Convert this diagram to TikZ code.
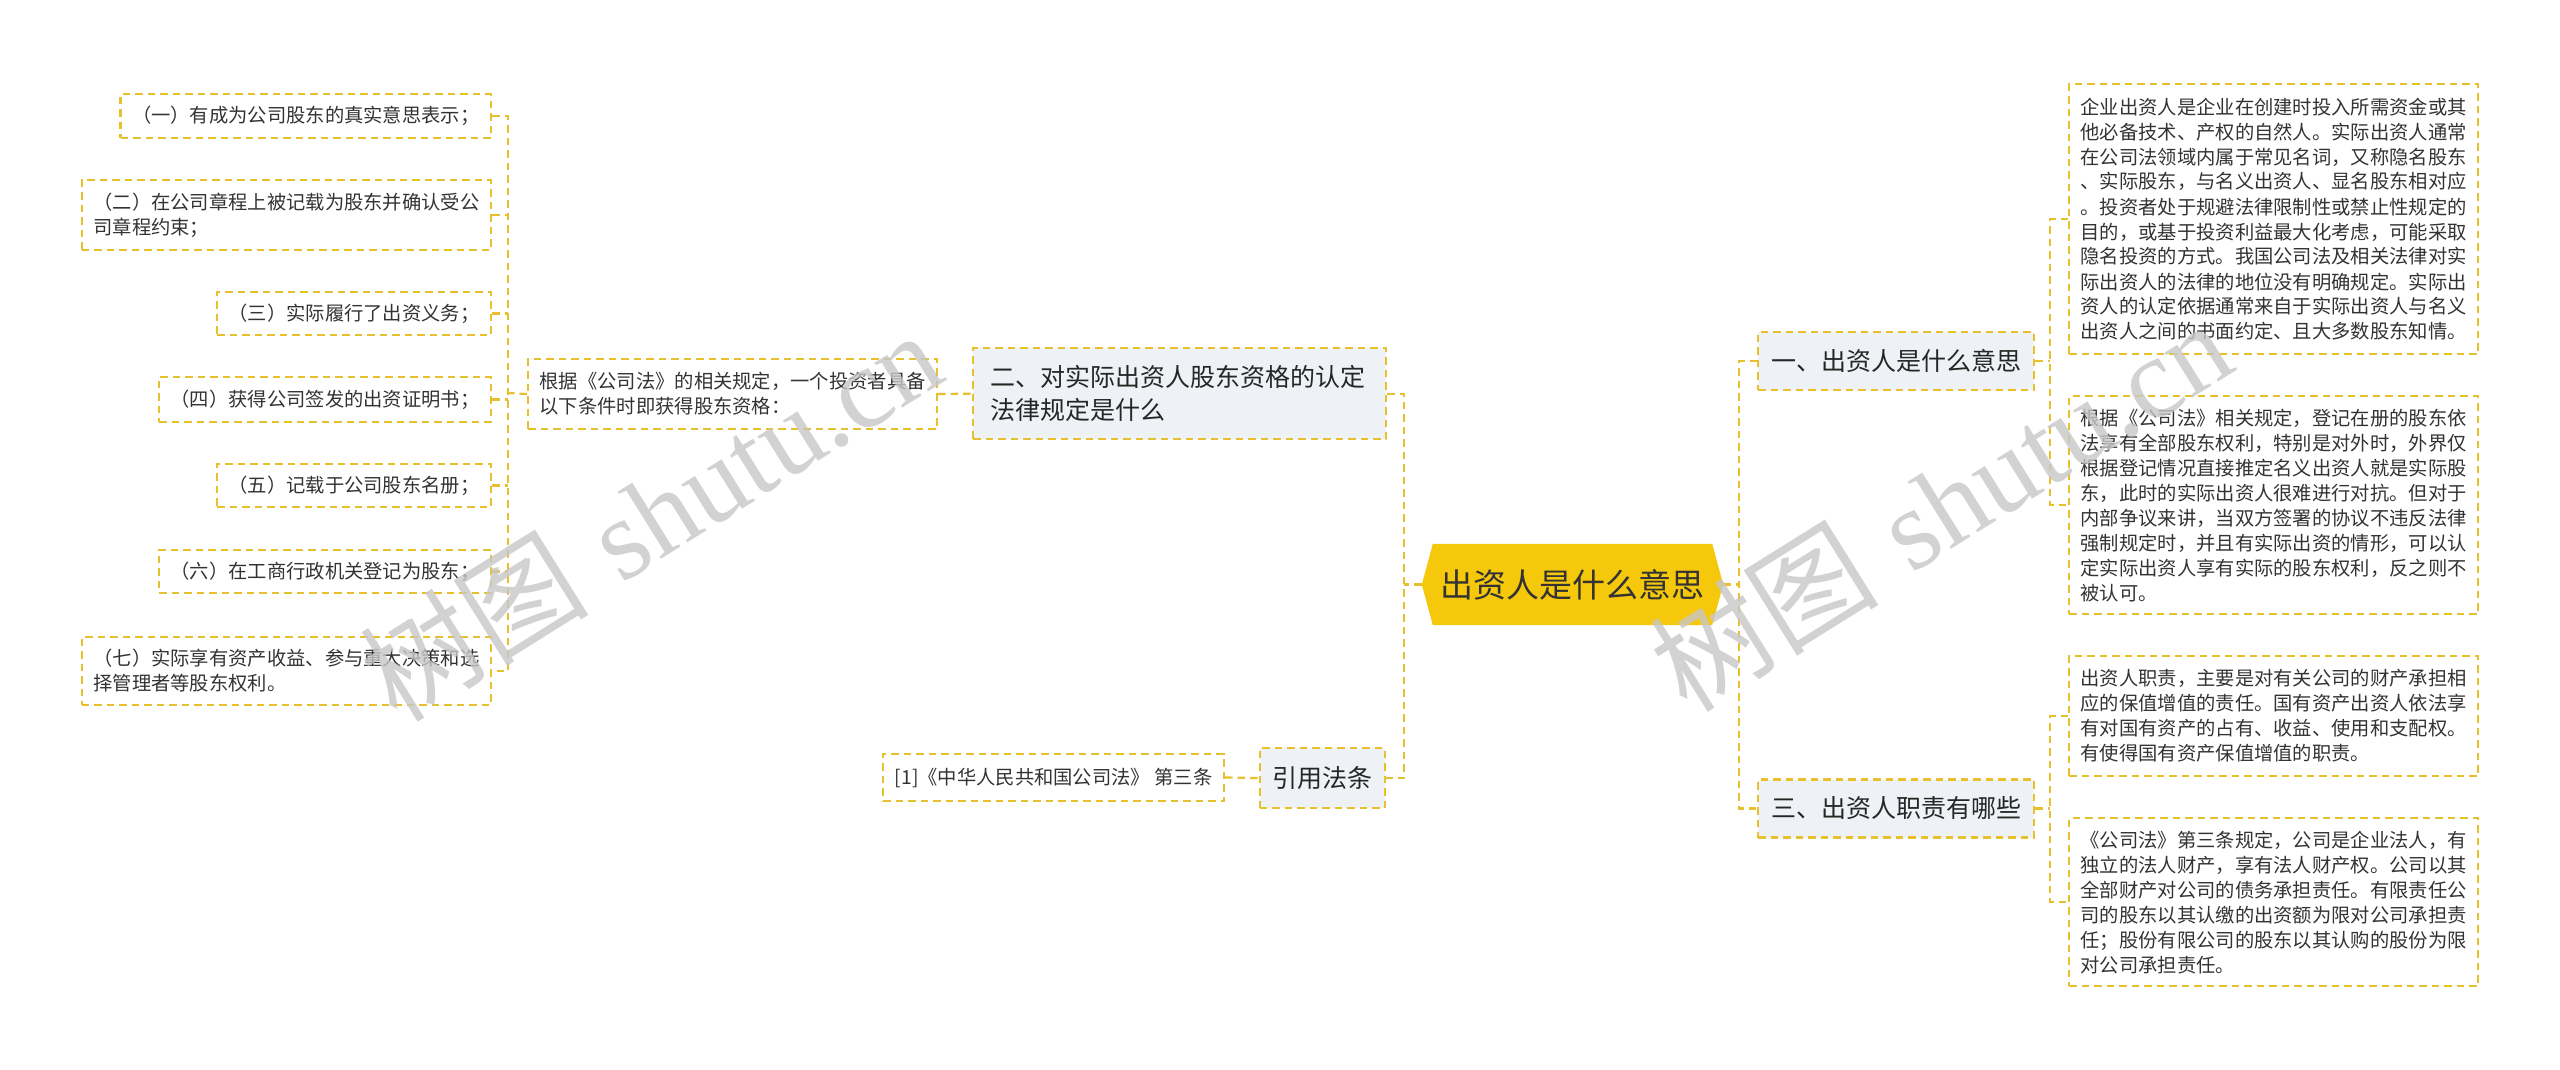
\documentclass[tikz,border=0pt]{standalone}
\usepackage{fontspec}
\newfontfamily\cjk{Noto Sans CJK SC}
\newfontfamily\wmlat{Liberation Serif}
\usetikzlibrary{backgrounds}
\definecolor{linecol}{HTML}{E8BF2C}
\definecolor{branchfill}{HTML}{EEF1F5}
\definecolor{rootfill}{HTML}{F5C80C}
\definecolor{txt}{HTML}{333333}
\tikzset{
  conn/.style={draw=linecol, line width=2.2pt, dash pattern=on 7.5pt off 5pt},
  leafbox/.style={conn, fill=white, text=txt, font=\cjk\fontsize{19.3}{25}\selectfont, align=left, inner xsep=11.5pt, inner ysep=0pt},
  branchbox/.style={conn, fill=branchfill, text=black!85, font=\cjk\fontsize{25}{33}\selectfont, align=left, inner xsep=13pt, inner ysep=0pt, minimum height=58pt},
  wmark/.style={rotate=32, text=black!22, opacity=0.8, font=\fontsize{115}{120}\selectfont}
}
\begin{document}
\begin{tikzpicture}[x=1pt,y=-1pt]
\useasboundingbox (0,0) rectangle (2560,1069);
% root
\node[font=\cjk\fontsize{33}{40}\selectfont, text=txt, minimum width=301pt, minimum height=81pt, inner sep=0pt] (root) at (1572.5,584.5) {出资人是什么意思};
\begin{scope}[on background layer]
  \fill[white] (0,0) rectangle (2560,1069);
  \fill[rootfill] (root.west) -- ([xshift=11pt]root.north west) -- ([xshift=-11pt]root.north east) -- (root.east) -- ([xshift=-11pt]root.south east) -- ([xshift=11pt]root.south west) -- cycle;
\end{scope}
% left branch
\node[branchbox, anchor=north west, text width=378pt, inner xsep=17.5pt, minimum height=91pt] (n2) at (972,347) {二、对实际出资人股东资格的认定\\法律规定是什么};
\node[leafbox, anchor=north west, minimum height=70pt] (gen) at (527,358) {根据《公司法》的相关规定，一个投资者具备\\以下条件时即获得股东资格：};
\node[leafbox, anchor=east, minimum height=44pt] (a1) at (492,116) {（一）有成为公司股东的真实意思表示；};
\node[leafbox, anchor=east, minimum height=70pt] (a2) at (492,215) {（二）在公司章程上被记载为股东并确认受公\\司章程约束；};
\node[leafbox, anchor=east, minimum height=43pt] (a3) at (492,313.5) {（三）实际履行了出资义务；};
\node[leafbox, anchor=east, minimum height=45pt] (a4) at (492,399.5) {（四）获得公司签发的出资证明书；};
\node[leafbox, anchor=east, minimum height=43pt] (a5) at (492,485.5) {（五）记载于公司股东名册；};
\node[leafbox, anchor=east, minimum height=43pt] (a6) at (492,571.5) {（六）在工商行政机关登记为股东；};
\node[leafbox, anchor=east, minimum height=68pt] (a7) at (492,671) {（七）实际享有资产收益、参与重大决策和选\\择管理者等股东权利。};
\node[branchbox, anchor=east, minimum height=60pt, inner xsep=12.5pt] (cite) at (1386,778) {引用法条};
\node[leafbox, anchor=east, minimum height=47pt] (ref) at (1225,777.5) {[1]《中华人民共和国公司法》 第三条};
% right branch
\node[branchbox, anchor=west] (b1) at (1757,361) {一、出资人是什么意思};
\node[branchbox, anchor=west] (b3) at (1757,808.5) {三、出资人职责有哪些};
\node[leafbox, anchor=north west, minimum height=270pt] (c1) at (2068,83) {企业出资人是企业在创建时投入所需资金或其\\他必备技术、产权的自然人。实际出资人通常\\在公司法领域内属于常见名词，又称隐名股东\\、实际股东，与名义出资人、显名股东相对应\\。投资者处于规避法律限制性或禁止性规定的\\目的，或基于投资利益最大化考虑，可能采取\\隐名投资的方式。我国公司法及相关法律对实\\际出资人的法律的地位没有明确规定。实际出\\资人的认定依据通常来自于实际出资人与名义\\出资人之间的书面约定、且大多数股东知情。};
\node[leafbox, anchor=north west, minimum height=218pt] (c2) at (2068,395) {根据《公司法》相关规定，登记在册的股东依\\法享有全部股东权利，特别是对外时，外界仅\\根据登记情况直接推定名义出资人就是实际股\\东，此时的实际出资人很难进行对抗。但对于\\内部争议来讲，当双方签署的协议不违反法律\\强制规定时，并且有实际出资的情形，可以认\\定实际出资人享有实际的股东权利，反之则不\\被认可。};
\node[leafbox, anchor=north west, minimum height=120pt] (c3) at (2068,655) {出资人职责，主要是对有关公司的财产承担相\\应的保值增值的责任。国有资产出资人依法享\\有对国有资产的占有、收益、使用和支配权。\\有使得国有资产保值增值的职责。};
\node[leafbox, anchor=north west, minimum height=168pt] (c4) at (2068,817) {《公司法》第三条规定，公司是企业法人，有\\独立的法人财产，享有法人财产权。公司以其\\全部财产对公司的债务承担责任。有限责任公\\司的股东以其认缴的出资额为限对公司承担责\\任；股份有限公司的股东以其认购的股份为限\\对公司承担责任。};
% connectors
\coordinate (lbus) at (1404,584.5);
\draw[conn] (root.west) -- (lbus);
\draw[conn] (n2.east) -- (n2.east -| lbus) -- (cite.east -| lbus) -- (cite.east);
\coordinate (rbus) at (1739,584.5);
\draw[conn] (root.east) -- (rbus);
\draw[conn] (b1.west) -- (b1.west -| rbus) -- (b3.west -| rbus) -- (b3.west);
\draw[conn] (gen.east) -- (n2.west);
\draw[conn] (ref.east) -- (cite.west);
\coordinate (gbus) at (508,393);
\draw[conn] (gen.west) -- (gbus);
\draw[conn] (a1.east) -- (a1.east -| gbus) -- (a7.east -| gbus) -- (a7.east);
\foreach \n in {a2,a3,a4,a5,a6} \draw[conn] (\n.east) -- (\n.east -| gbus);
\coordinate (cbusa) at (2050,361);
\draw[conn] (b1.east) -- (cbusa);
\draw[conn] (c1.west) -- (c1.west -| cbusa) -- (c2.west -| cbusa) -- (c2.west);
\coordinate (cbusb) at (2050,808.5);
\draw[conn] (b3.east) -- (cbusb);
\draw[conn] (c3.west) -- (c3.west -| cbusb) -- (c4.west -| cbusb) -- (c4.west);
% watermarks
\node[wmark] (wm1) at (650,515) {{\cjk 树图} {\wmlat shutu.cn}};
\node[wmark] (wm2) at (1940,505) {{\cjk 树图} {\wmlat shutu.cn}};
\end{tikzpicture}
\end{document}
